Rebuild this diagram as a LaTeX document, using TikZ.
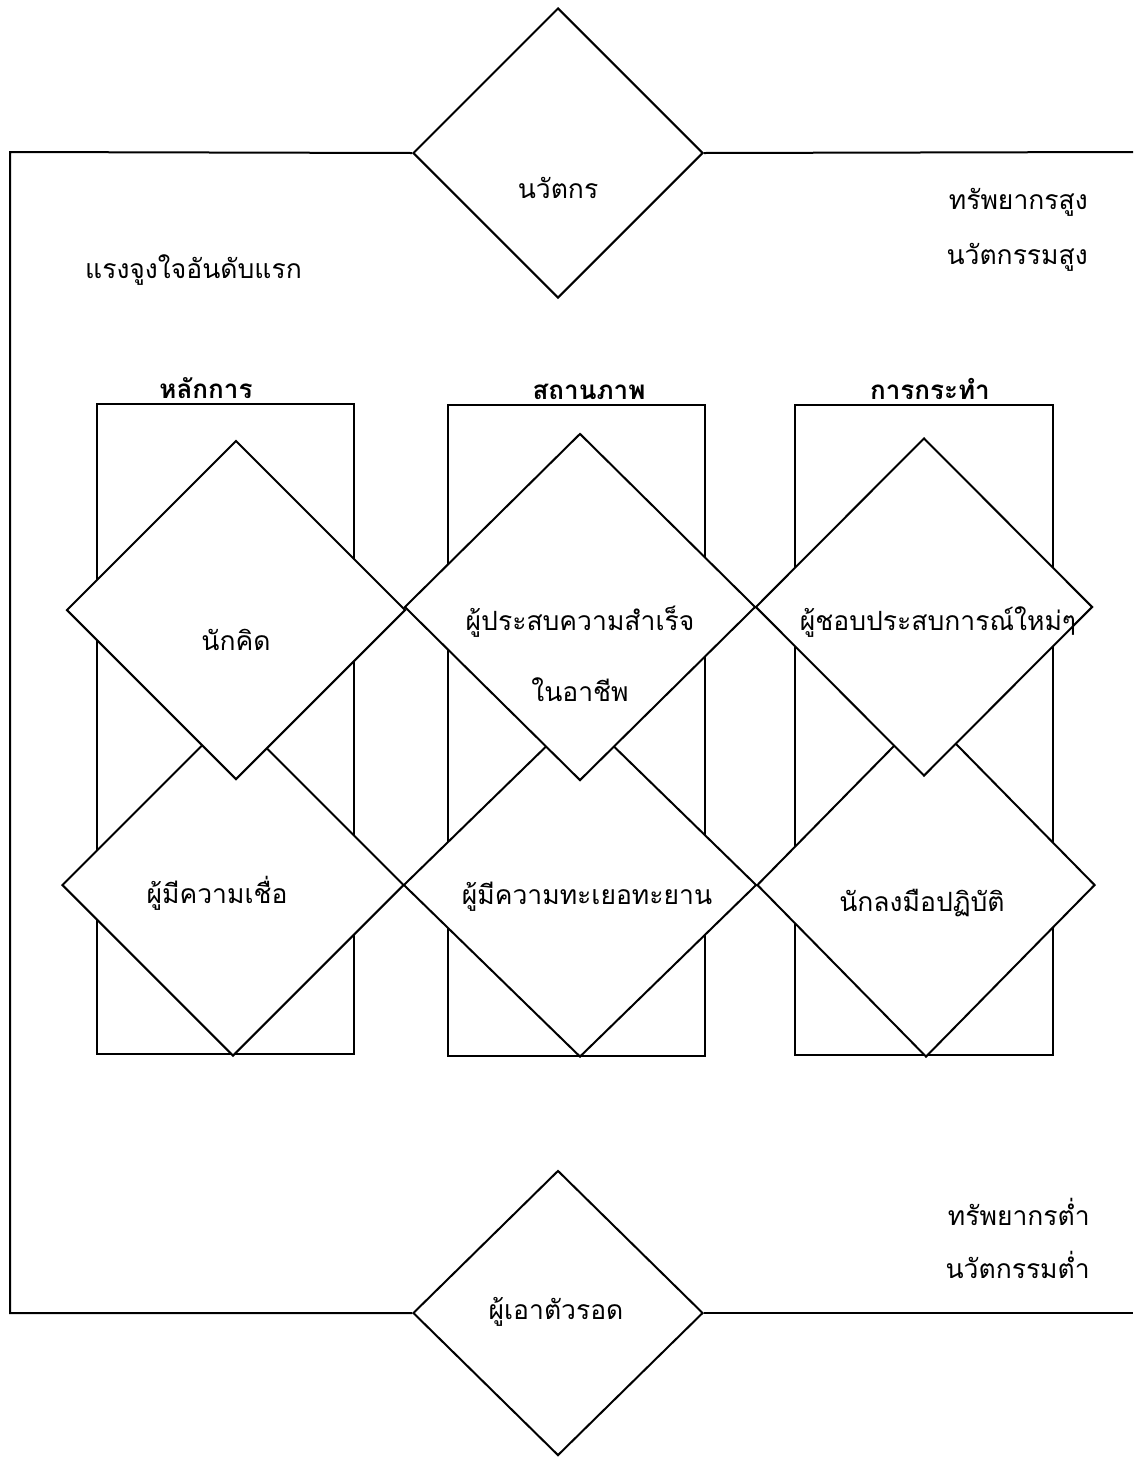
\documentclass[tikz,border=0pt]{standalone}
\usepackage{fontspec}
\newfontfamily\thaifont[Script=Thai]{Loma}
\usetikzlibrary{shapes.geometric}
\begin{document}
\begin{tikzpicture}[x=1pt,y=-1pt,
  dia/.style={diamond, draw=black, line width=2pt, fill=white, inner sep=0pt},
  box/.style={rectangle, draw=black, line width=1.8pt, inner sep=0pt, anchor=north west},
  lbl/.style={font=\thaifont\fontsize{26.5}{34}\selectfont, inner sep=0pt, align=center},
  hdr/.style={font=\thaifont\bfseries\fontsize{26}{30}\selectfont, inner sep=0pt, anchor=base},
  frameline/.style={line width=2pt}]
\useasboundingbox (0,0) rectangle (1133,1457);
% top and bottom diamonds
\node[dia, minimum width=290pt, minimum height=290pt] (top) at (558,153) {};
\node[dia, minimum width=290pt, minimum height=285pt] (bot) at (558,1313) {};
% outer frame
\coordinate (ftl) at (10,152);
\coordinate (fbl) at (10,1313);
\coordinate (ftr) at (1133,152);
\coordinate (fbr) at (1133,1313);
\draw[frameline] (top.west) -- (ftl) -- (fbl) -- (bot.west);
\draw[frameline] (top.east) -- (ftr);
\draw[frameline] (bot.east) -- (fbr);
% column boxes
\node[box, minimum width=257pt, minimum height=650pt] (r1) at (96,403) {};
\node[box, minimum width=257pt, minimum height=651pt] (r2) at (447,404) {};
\node[box, minimum width=258pt, minimum height=650pt] (r3) at (794,404) {};
% lower diamonds
\node[dia, minimum width=342pt, minimum height=342pt] (d4) at (233,885) {};
\node[dia, minimum width=353pt, minimum height=344pt] (d5) at (580,885) {};
\node[dia, minimum width=338pt, minimum height=344pt] (d6) at (926,885) {};
% upper diamonds
\node[dia, minimum width=339pt, minimum height=339pt] (d1) at (236,610) {};
\node[dia, minimum width=351pt, minimum height=347pt] (d2) at (580,607) {};
\node[dia, minimum width=337pt, minimum height=338pt] (d3) at (924,607) {};
% headers
\node[hdr] (h1) at (206,398) {หลักการ};
\node[hdr] (h2) at (589,399) {สถานภาพ};
\node[hdr] (h3) at (930,399) {การกระทำ};
% labels
\node[lbl] (tTop) at (558,188) {นวัตกร};
\node[lbl] (tBot) at (556,1312) {ผู้เอาตัวรอด};
\node[lbl, anchor=west] (tMot) at (85,270) {แรงจูงใจอันดับแรก};
\node[lbl, anchor=east] (tHi1) at (1088,202) {ทรัพยากรสูง};
\node[lbl, anchor=east] (tHi2) at (1088,257) {นวัตกรรมสูง};
\node[lbl, anchor=east] (tLo1) at (1090,1212) {ทรัพยากรต่ำ};
\node[lbl, anchor=east] (tLo2) at (1090,1265) {นวัตกรรมต่ำ};
\node[lbl] (t1) at (236,640) {นักคิด};
\node[lbl] (t2a) at (580,622) {ผู้ประสบความสำเร็จ};
\node[lbl] (t2b) at (580,690) {ในอาชีพ};
\node[lbl] (t3) at (938,622) {ผู้ชอบประสบการณ์ใหม่ๆ};
\node[lbl] (t4) at (217,893) {ผู้มีความเชื่อ};
\node[lbl] (t5) at (587,897) {ผู้มีความทะเยอทะยาน};
\node[lbl] (t6) at (922,903) {นักลงมือปฏิบัติ};
\end{tikzpicture}
\end{document}
